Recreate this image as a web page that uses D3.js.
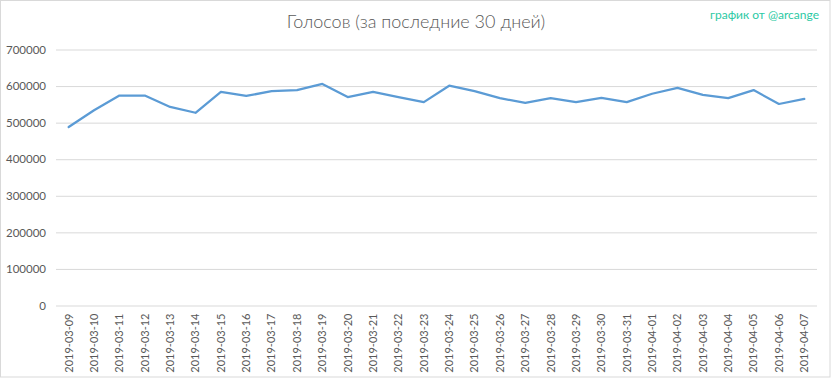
<!DOCTYPE html>
<html>
<head>
<meta charset="utf-8">
<script src="https://cdn.jsdelivr.net/npm/d3@7"></script>
<style>
  html, body { margin: 0; padding: 0; background: #fff; }
  svg { display: block; }
</style>
</head>
<body>
<svg id="chart" width="832" height="379"></svg>
<script>
const dates = ["2019-03-09","2019-03-10","2019-03-11","2019-03-12","2019-03-13","2019-03-14","2019-03-15","2019-03-16","2019-03-17","2019-03-18","2019-03-19","2019-03-20","2019-03-21","2019-03-22","2019-03-23","2019-03-24","2019-03-25","2019-03-26","2019-03-27","2019-03-28","2019-03-29","2019-03-30","2019-03-31","2019-04-01","2019-04-02","2019-04-03","2019-04-04","2019-04-05","2019-04-06","2019-04-07"];
const votes = [488000,534000,574000,574000,543000,527000,584000,573000,586000,589000,606000,570000,584000,570000,556000,601000,586000,567000,554000,567000,556000,568000,556000,579000,595000,576000,567000,589000,551000,565000];
const yTicks = [0,100000,200000,300000,400000,500000,600000,700000];
const titleText = "Голосов (за последние 30 дней)";
const watermarkText = "график от @arcange";

const W = 832, H = 379;
const margin = {left: 56, right: 15, top: 49.5, bottom: 73.5};
const svg = d3.select("#chart");
const fontFam = "Lato, 'Open Sans', sans-serif";

svg.append("rect").attr("x",0.5).attr("y",0.5).attr("width",829.5).attr("height",376.5)
  .attr("fill","#fff").attr("stroke","#D9D9D9").attr("stroke-width",1);

const x = d3.scaleBand().domain(dates).range([margin.left, W - margin.right]);
const y = d3.scaleLinear().domain([0,700000]).range([H - margin.bottom, margin.top]);

// grid
const yAxis = d3.axisLeft(y).tickValues(yTicks).tickFormat(d3.format("d"))
  .tickSize(-(W - margin.right - margin.left)).tickPadding(10);
const gy = svg.append("g").attr("transform", `translate(${margin.left},0)`).call(yAxis);
gy.select(".domain").remove();
gy.selectAll(".tick line").attr("stroke","#D9D9D9").attr("stroke-width",1);
gy.selectAll(".tick text").attr("fill","#595959").style("font-family",fontFam).style("font-size","11.5px");

// x axis
const xAxis = d3.axisBottom(x).tickSize(0).tickPadding(0);
const gx = svg.append("g").attr("transform", `translate(0,${H - margin.bottom})`).call(xAxis);
gx.select(".domain").remove();
gx.selectAll(".tick text")
  .attr("fill","#595959").style("font-family",fontFam).style("font-size","11px")
  .attr("transform","rotate(-90)")
  .attr("text-anchor","end")
  .attr("x",-8).attr("y",0).attr("dy","0.35em");

// line
const line = d3.line().x((d,i) => x(dates[i]) + x.bandwidth()/2).y(d => y(d));
svg.append("path").datum(votes).attr("d", line)
  .attr("fill","none").attr("stroke","#5B9BD5").attr("stroke-width",2.25)
  .attr("stroke-linejoin","round").attr("stroke-linecap","round");

// title
svg.append("text").attr("x", 416).attr("y", 28).attr("text-anchor","middle")
  .attr("fill","#595959").style("font-family",fontFam).style("font-size","18px").style("font-weight",300)
  .text(titleText);

// watermark
svg.append("text").attr("x", 819).attr("y", 19).attr("text-anchor","end")
  .attr("fill","#2CC9A4").style("font-family",fontFam).style("font-size","12px")
  .text(watermarkText);
</script>
</body>
</html>
